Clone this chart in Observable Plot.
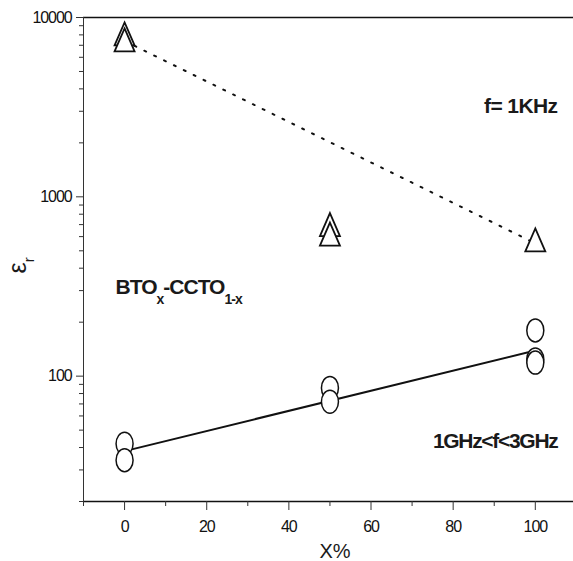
<!DOCTYPE html>
<html><head><meta charset="utf-8">
<script src="https://cdn.jsdelivr.net/npm/d3@7"></script>
<script src="https://cdn.jsdelivr.net/npm/@observablehq/plot@0.6"></script>
<style>
body{margin:0;background:#fff}
#chart svg text{font-family:"Liberation Sans",Arial,sans-serif;letter-spacing:-1.1px}
</style></head><body><div id="chart"></div>
<script>
// data (x in %, permittivity on log scale)
const triX   = [0, 0, 50, 50, 100];
const triEps = [8100, 7500, 700, 620, 575];           // f = 1 kHz
const circX   = [0, 0, 50, 50, 100, 100, 100];
const circEps = [42, 34, 86, 72, 180, 124, 119];      // 1 GHz < f < 3 GHz
const fitKHzX = [0, 100];
const fitKHzEps = [7400, 550];
const fitGHzX = [0, 100];
const fitGHzEps = [38.2, 139];
const xMajor = [0, 20, 40, 60, 80, 100];
const xMinor = [-10, 10, 30, 50, 70, 90];
const yMajor = [100, 1000, 10000];
const yMinor = [20, 30, 40, 50, 60, 70, 80, 90, 200, 300, 400, 500, 600, 700, 800, 900,
                2000, 3000, 4000, 5000, 6000, 7000, 8000, 9000];

const tri = triX.map((x, i) => ({x, y: triEps[i]}));
const circ = circX.map((x, i) => ({x, y: circEps[i]}));
const fitK = fitKHzX.map((x, i) => ({x, y: fitKHzEps[i]}));
const fitG = fitGHzX.map((x, i) => ({x, y: fitGHzEps[i]}));

const ellipseSym = {draw(ctx) {
  const rx = 8.5, ry = 11.5, k = 0.5523;
  ctx.moveTo(rx, 0);
  ctx.bezierCurveTo(rx, ry * k, rx * k, ry, 0, ry);
  ctx.bezierCurveTo(-rx * k, ry, -rx, ry * k, -rx, 0);
  ctx.bezierCurveTo(-rx, -ry * k, -rx * k, -ry, 0, -ry);
  ctx.bezierCurveTo(rx * k, -ry, rx, -ry * k, rx, 0);
  ctx.closePath();
}};
const triSym = {draw(ctx) {
  ctx.moveTo(0, -11.5); ctx.lineTo(10, 11.5); ctx.lineTo(-10, 11.5); ctx.closePath();
}};

const svg = Plot.plot({
  width: 573, height: 561,
  marginLeft: 83, marginRight: 0, marginTop: 17, marginBottom: 60,
  style: {fontSize: "16px", fontFamily: "Liberation Sans, Arial, sans-serif", background: "#fff"},
  x: {type: "linear", domain: [-10, 109.3]},
  y: {type: "log", domain: [20, 10000]},
  marks: [
    Plot.ruleY([10000], {stroke: "#111", strokeWidth: 1.3}),
    Plot.ruleY([20], {stroke: "#111", strokeWidth: 1.3}),
    Plot.ruleX([-10], {stroke: "#333", strokeWidth: 1}),
    Plot.axisY(yMinor, {tickSize: 4, tickFormat: () => "", stroke: "#333", label: null}),
    Plot.axisY(yMajor, {tickSize: 7, tickPadding: 5, tickFormat: d => String(d), stroke: "#333", fill: "#111", label: null}),
    Plot.axisX(xMinor, {tickSize: 5, tickFormat: () => "", stroke: "#333", label: null}),
    Plot.axisX(xMajor, {tickSize: 9, tickPadding: 10, tickFormat: d => String(d), stroke: "#333", fill: "#111", label: null}),
    Plot.line(fitK, {x: "x", y: "y", stroke: "#111", strokeWidth: 2, strokeDasharray: "2 9"}),
    Plot.line(fitG, {x: "x", y: "y", stroke: "#111", strokeWidth: 2}),
    Plot.dot(tri, {x: "x", y: "y", symbol: triSym, stroke: "#111", fill: "white", strokeWidth: 1.8}),
    Plot.dot(circ, {x: "x", y: "y", symbol: ellipseSym, stroke: "#111", fill: "white", strokeWidth: 1.5}),
    Plot.text(["f= 1KHz"], {x: () => 105.4, y: () => 2917, textAnchor: "end", lineAnchor: "bottom", fontSize: 21, fontWeight: "bold", fill: "#1a1a1a"}),
    Plot.text(["1GHz<f<3GHz"], {x: () => 105.4, y: () => 40, textAnchor: "end", lineAnchor: "bottom", fontSize: 21, fontWeight: "bold", fill: "#1a1a1a"}),
    Plot.text(["BTOx-CCTO1-x"], {x: () => -2.19, y: () => 289, textAnchor: "start", lineAnchor: "bottom", fontSize: 21, fontWeight: "bold", fill: "#1a1a1a"}),
    Plot.text(["X%"], {frameAnchor: "bottom", dx: 6.5, dy: 56, lineAnchor: "bottom", fontSize: 20, fill: "#1a1a1a"}),
    Plot.text(["εr"], {frameAnchor: "left", dx: -58, dy: 14, rotate: -90, lineAnchor: "bottom", fontSize: 25, fill: "#1a1a1a"})
  ]
});

const NS = "http://www.w3.org/2000/svg";
function rebuild(t, parts) {
  t.textContent = "";
  for (const [s, attrs] of parts) {
    const ts = document.createElementNS(NS, "tspan");
    ts.textContent = s;
    for (const k in attrs) ts.setAttribute(k, attrs[k]);
    t.appendChild(ts);
  }
}
for (const t of svg.querySelectorAll("text")) {
  const s = t.textContent;
  if (s === "BTOx-CCTO1-x") {
    t.style.letterSpacing = "-1px";
    rebuild(t, [["BTO", {}], ["x", {dy: "10", "font-size": "14"}], ["-CCTO", {dy: "-10"}], ["1-x", {dy: "10", "font-size": "14"}]]);
  } else if (s === "εr") {
    t.style.letterSpacing = "0px";
    rebuild(t, [["ε", {}], ["r", {dy: "8", "font-size": "15"}]]);
  } else if (s === "f= 1KHz") {
    t.style.letterSpacing = "-0.6px";
  } else if (s === "1GHz<f<3GHz") {
    t.style.letterSpacing = "-1.3px";
  } else if (s === "X%") {
    t.style.letterSpacing = "0px";
  }
}
document.getElementById("chart").appendChild(svg);
</script></body></html>
